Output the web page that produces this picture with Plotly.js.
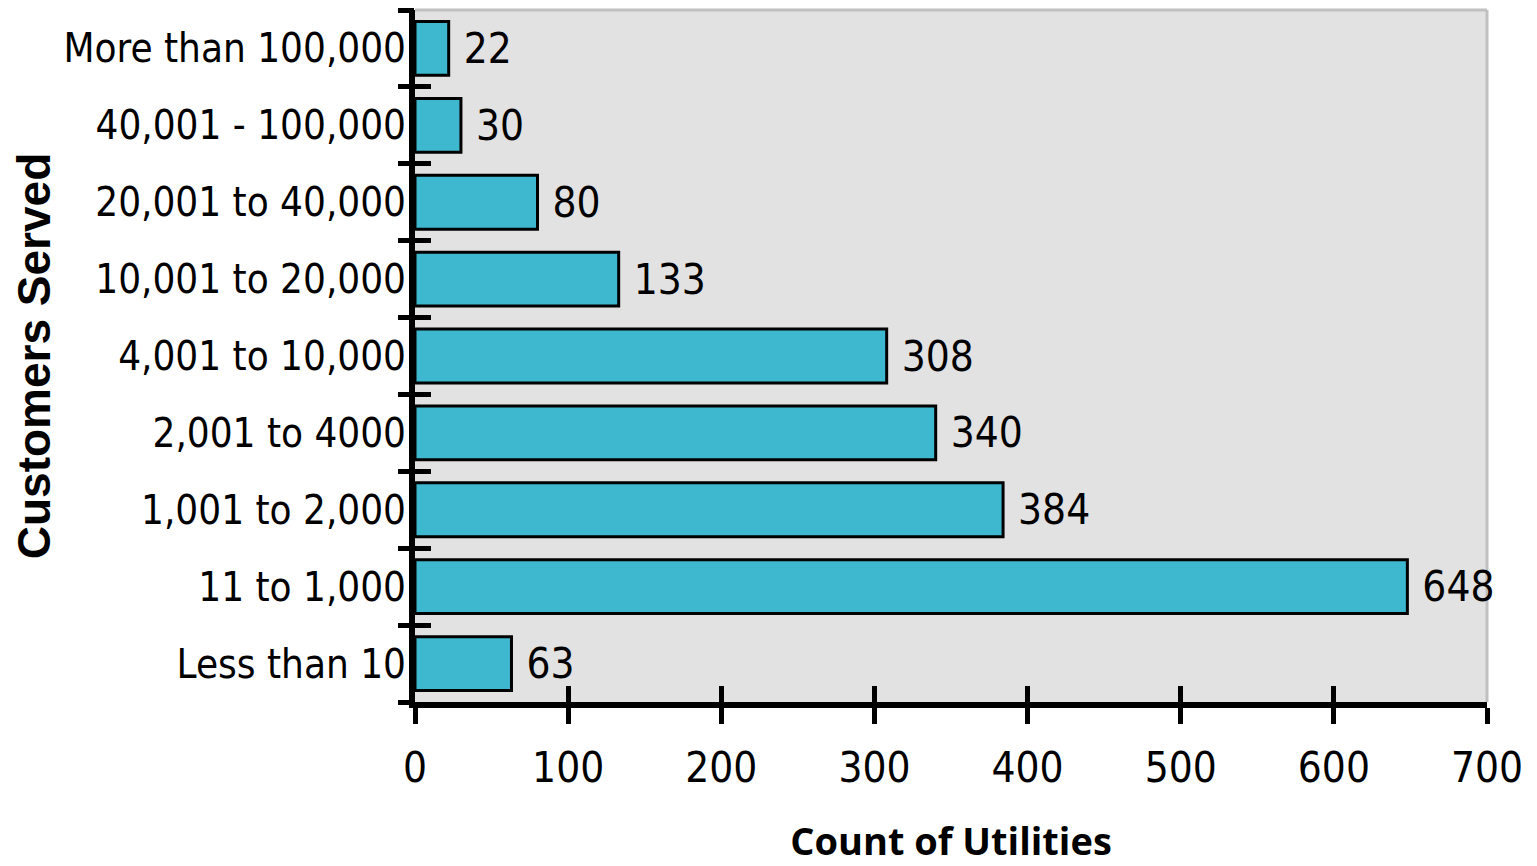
<!DOCTYPE html>
<html>
<head>
<meta charset="utf-8">
<script src="https://cdn.plot.ly/plotly-3.0.1.min.js"></script>
<style>html,body{margin:0;padding:0;background:#fff;}#chart{width:1537px;height:866px;}</style>
</head>
<body>
<div id="chart"></div>
<script>
const categories = ["Less than 10", "11 to 1,000", "1,001 to 2,000", "2,001 to 4000", "4,001 to 10,000", "10,001 to 20,000", "20,001 to 40,000", "40,001 - 100,000", "More than 100,000"];
const counts = [63, 648, 384, 340, 308, 133, 80, 30, 22];
const xTickValues = [0, 100, 200, 300, 400, 500, 600, 700];
const xTitle = "Count of Utilities";
const yTitle = "Customers Served";

const narrow = '"Liberation Sans Narrow", "Arial Narrow", "DejaVu Sans Condensed", sans-serif';
const boundaries = categories.map((c, i) => i - 0.5).concat([categories.length - 0.5]);

const traces = [
  {
    type: 'bar', orientation: 'h', y: categories, x: counts,
    marker: { color: '#3db8cf', line: { color: '#000', width: 3 } },
    text: counts.map(String), texttemplate: ' %{text}', textposition: 'outside',
    textfont: { family: narrow, size: 42, color: '#000' },
    constraintext: 'none', cliponaxis: false, hoverinfo: 'x+y', showlegend: false
  },
  { type: 'scatter', x: [], y: [], xaxis: 'x', yaxis: 'y2', showlegend: false, hoverinfo: 'skip' },
  { type: 'scatter', x: [], y: [], xaxis: 'x', yaxis: 'y3', showlegend: false, hoverinfo: 'skip' },
  { type: 'scatter', x: [], y: [], xaxis: 'x2', yaxis: 'y', showlegend: false, hoverinfo: 'skip' }
];

const layout = {
  width: 1537, height: 866,
  margin: { l: 415, r: 50, t: 10, b: 164 },
  paper_bgcolor: '#fff', plot_bgcolor: '#e2e2e2',
  bargap: 0.3,
  showlegend: false,
  xaxis: {
    range: [0, 700], tickvals: xTickValues, ticktext: xTickValues.map(String),
    ticks: 'outside', ticklen: 16, tickwidth: 5, tickcolor: '#000',
    showline: true, linecolor: '#000', linewidth: 6,
    showgrid: false, zeroline: false,
    tickfont: { family: narrow, size: 42, color: '#000' },
    ticklabelstandoff: 8,
    title: { text: xTitle, font: { family: '"Open Sans", Lato, sans-serif', size: 38, color: '#000', weight: 'bold' }, standoff: 41 }
  },
  xaxis2: {
    range: [0, 700], tickvals: xTickValues, overlaying: 'x', anchor: 'y', side: 'bottom',
    ticks: 'inside', ticklen: 16, tickwidth: 5, tickcolor: '#000',
    showticklabels: false, showline: false, showgrid: false, zeroline: false
  },
  yaxis: {
    type: 'category', range: [-0.5, categories.length - 0.5],
    ticks: '', showline: true, linecolor: '#000', linewidth: 6,
    showgrid: false, zeroline: false,
    tickfont: { family: narrow, size: 40, color: '#000' },
    ticklabelstandoff: -5,
    title: { text: yTitle, font: { family: '"Liberation Sans", Arial, sans-serif', size: 46, color: '#000', weight: 'bold' }, standoff: 0 }
  },
  yaxis2: {
    range: [-0.5, categories.length - 0.5], tickvals: boundaries, overlaying: 'y', anchor: 'x', side: 'left',
    ticks: 'outside', ticklen: 16, tickwidth: 5, tickcolor: '#000',
    showticklabels: false, showline: false, showgrid: false, zeroline: false
  },
  yaxis3: {
    range: [-0.5, categories.length - 0.5], tickvals: boundaries, overlaying: 'y', anchor: 'x', side: 'left',
    ticks: 'inside', ticklen: 16, tickwidth: 5, tickcolor: '#000',
    showticklabels: false, showline: false, showgrid: false, zeroline: false
  },
  shapes: [
    { type: 'line', xref: 'paper', yref: 'paper', x0: 0, x1: 1, y0: 1, y1: 1, line: { color: '#c0c0c0', width: 3 }, layer: 'below' },
    { type: 'line', xref: 'paper', yref: 'paper', x0: 1, x1: 1, y0: 0, y1: 1, line: { color: '#c0c0c0', width: 3 }, layer: 'below' }
  ]
};

Plotly.newPlot('chart', traces, layout, { displayModeBar: false, responsive: false });
</script>
</body>
</html>
